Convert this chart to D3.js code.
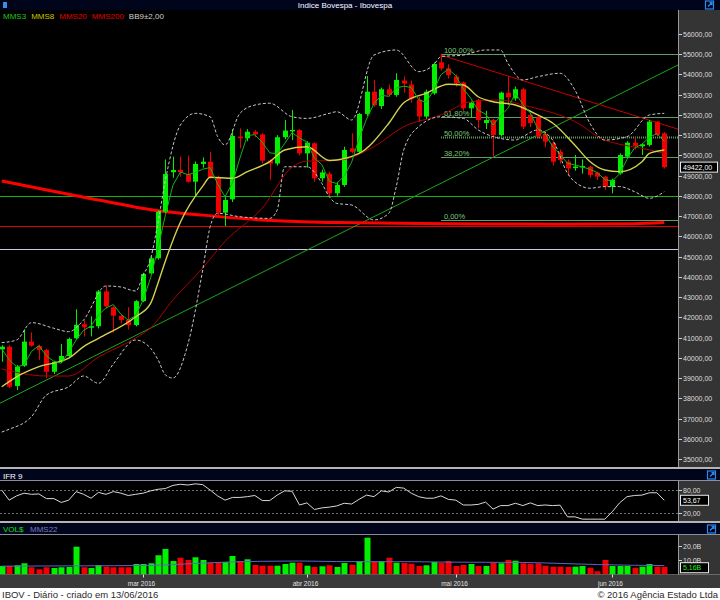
<!DOCTYPE html>
<html>
<head>
<meta charset="utf-8">
<script src="https://cdn.jsdelivr.net/npm/d3@7"></script>
<style>
  body { margin: 0; background: #fff; }
  svg { display: block; font-family: "Liberation Sans", Arial, sans-serif; }
</style>
</head>
<body>
<script>
// trading days shown (Ibovespa, daily)
const dates = [
  "2016-02-01","2016-02-02","2016-02-03","2016-02-04","2016-02-05","2016-02-10","2016-02-11","2016-02-12","2016-02-15","2016-02-16",
  "2016-02-17","2016-02-18","2016-02-19","2016-02-22","2016-02-23","2016-02-24","2016-02-25","2016-02-26","2016-02-29",
  "2016-03-01","2016-03-02","2016-03-03","2016-03-04","2016-03-07","2016-03-08","2016-03-09","2016-03-10","2016-03-11","2016-03-14",
  "2016-03-15","2016-03-16","2016-03-17","2016-03-18","2016-03-21","2016-03-22","2016-03-23","2016-03-24","2016-03-28","2016-03-29",
  "2016-03-30","2016-03-31",
  "2016-04-01","2016-04-04","2016-04-05","2016-04-06","2016-04-07","2016-04-08","2016-04-11","2016-04-12","2016-04-13","2016-04-14",
  "2016-04-15","2016-04-18","2016-04-19","2016-04-20","2016-04-22","2016-04-25","2016-04-26","2016-04-27","2016-04-28","2016-04-29",
  "2016-05-02","2016-05-03","2016-05-04","2016-05-05","2016-05-06","2016-05-09","2016-05-10","2016-05-11","2016-05-12","2016-05-13",
  "2016-05-16","2016-05-17","2016-05-18","2016-05-19","2016-05-20","2016-05-23","2016-05-24","2016-05-25","2016-05-27","2016-05-30",
  "2016-05-31",
  "2016-06-01","2016-06-02","2016-06-03","2016-06-06","2016-06-07","2016-06-08","2016-06-09","2016-06-10"
];

const opens = [
  40420,40550,38610,39610,40800,40580,40390,39310,39830,40090,
  40970,41660,41500,41560,43280,42500,42070,41870,41620,42800,
  44170,44920,47220,49170,49280,49080,48700,49580,49690,48920,
  47170,47830,50930,50850,51170,51040,49740,49600,50900,51230,
  51250,50100,50600,48870,49100,48130,48540,50350,50180,52050,
  53150,52440,53270,52990,53700,53500,52750,51920,53070,54600,
  54300,53900,53600,52330,52740,51600,51750,51010,53100,52820,
  53270,52000,51880,51060,50600,50180,49690,49400,49420,49440,
  49150,48950,48460,49110,49940,50630,50450,50520,51670,51090
];
const highs = [
  40620,40620,39650,41410,41250,40650,40450,39850,40680,41000,
  42400,41860,42050,43350,43580,42550,42150,42500,42850,44200,
  45000,47300,49800,49940,49940,50000,49700,49900,50180,49000,
  48000,51290,51340,51300,51250,51100,49800,51000,51750,52250,
  51300,50700,50650,49300,49200,48700,50430,51100,52100,53920,
  53720,53350,53500,54060,53900,53700,52900,53250,54600,55030,
  54500,54000,53650,52700,52800,52200,51800,53150,53920,53400,
  53350,52100,51950,51200,50700,50300,49800,50020,49800,49500,
  49200,49000,48850,50100,50700,50900,50600,51750,51700,51150
];
const lows = [
  39810,38500,38400,39550,40550,39900,38990,39200,39750,40000,
  40900,41050,41060,41450,42450,41240,41700,41400,41550,42750,
  44100,44850,47150,48900,48950,48650,47960,49400,48850,47000,
  46510,47700,50350,50700,50900,49610,48800,49500,50800,50760,
  50000,49400,48700,48700,47950,48000,48450,50100,50100,51950,
  52400,52300,52900,52900,53100,52600,51650,51800,53000,54200,
  53800,53400,52200,51900,51340,51300,49940,50950,52500,52700,
  51300,51400,50850,50400,49500,49600,49000,49250,49100,48900,
  48790,48300,48130,49050,49850,50300,50020,50450,50950,49350
];
const closes = [
  40550,38570,39560,40800,40600,40390,39310,39800,40090,40930,
  41630,41510,41560,43280,42540,42080,41870,41620,42800,44140,
  44920,47220,49080,49280,49170,48700,49580,49690,48920,47170,
  47800,50960,50850,51170,51040,49740,49600,50900,51230,51260,
  50100,50630,48870,49160,48130,48540,50270,50180,52050,53150,
  52490,53270,52990,53730,53550,52800,51920,53150,54520,54300,
  53970,53560,52330,52610,51750,51750,51010,53100,52870,53270,
  51420,51600,50930,50680,49690,49770,49360,49450,49480,49030,
  48950,48460,48790,50020,50630,50470,50550,51670,51010,49422
];

// volume in billions of R$
const volumes = [
  5.8,5.8,6.3,7.7,4.9,3.5,4.9,4.4,4.9,5.1,
  19.3,4.9,4.4,6.5,5.3,4.9,4.9,4.9,7.2,7.2,
  7.7,13.3,17.7,9.3,11.6,10,11.9,10,8.1,8.4,
  8.6,12.8,9.3,10.5,6.5,6.0,6.0,6.0,7.2,8.1,
  8.1,6.0,5.1,5.6,6.3,5.1,7.9,6.7,9.3,25.6,
  9.1,9.3,11.6,8.1,7.9,7.4,5.8,6.3,8.6,7.9,
  9.3,5.8,6.6,7.2,5.8,5.8,8.1,7.7,10,9.5,
  7.7,7.4,7.7,6.0,5.3,5.3,5.1,5.3,5.8,4.6,
  2.1,10,5.8,5.8,5.8,4.6,5.3,7.2,5.3,5.16
];

// IFR 9
const ifrValues = [
  80,54,65,72,69,70,58,58,48,54,
  76,69,59,74,69,76,72,66,69,72,
  78,82,84,92,95,93,96,94,80,65,
  54,61,61,63,66,53,53,67,78,77,
  41.5,47,30,34,36,39,46,44,56,67,
  63,78,75,87,85,72,63,59,59,65,
  56,54,41.5,41.5,43,49,31,40,40,46,
  40,47,40,41.5,40,41,11,11,5,5,
  5,5,24,47,63,66,67,73,73,53.67
];

const mms3Values = [
  40450,39900,39560,39640,40320,40600,40100,39830,39730,40270,
  40880,41360,41570,42120,42460,42630,42160,41860,42100,42850,
  43950,45430,47070,48530,49180,49050,49150,49320,49400,48590,
  47960,48640,49870,50990,51020,50650,50130,50080,50580,51130,
  50860,50660,49870,49550,48720,48610,48980,49660,50830,51790,
  52560,52970,52920,53330,53420,53360,52760,52620,53200,53990,
  54260,53940,53290,52830,52230,52040,51500,51950,52330,53080,
  52520,52100,51320,51070,50430,50050,49610,49530,49430,49320,
  49150,48810,48730,49090,49810,50370,50550,50900,51080,50700
];

const mms8Points = [
  ["2016-02-01",38570],["2016-02-03",39060],["2016-02-10",39560],["2016-02-16",39980],["2016-02-18",40550],
  ["2016-02-22",40960],["2016-02-29",42030],["2016-03-02",42690],["2016-03-03",43700],["2016-03-04",44800],
  ["2016-03-08",46700],["2016-03-11",48480],["2016-03-14",48920],["2016-03-17",48870],["2016-03-21",49200],
  ["2016-03-24",49690],["2016-03-29",50270],["2016-04-01",50430],["2016-04-06",49750],["2016-04-12",50100],
  ["2016-04-18",51590],["2016-04-20",52600],["2016-04-26",53070],["2016-04-29",53520],["2016-05-03",53480],
  ["2016-05-05",52900],["2016-05-09",52650],["2016-05-12",52490],["2016-05-17",52000],["2016-05-19",51600],
  ["2016-05-24",50500],["2016-05-27",49700],["2016-05-31",49280],["2016-06-02",49200],["2016-06-07",49690],
  ["2016-06-08",50100],["2016-06-10",50270]
];
const mms20Points = [
  ["2016-02-01",39450],["2016-02-11",39100],["2016-02-16",39100],["2016-02-22",40040],["2016-02-29",40980],
  ["2016-03-02",41470],["2016-03-07",42860],["2016-03-11",44440],["2016-03-16",45760],["2016-03-23",47400],
  ["2016-03-30",49420],["2016-04-01",49720],["2016-04-07",49750],["2016-04-14",50430],["2016-04-20",51420],
  ["2016-04-28",52000],["2016-05-04",52650],["2016-05-10",52740],["2016-05-13",52490],["2016-05-24",51670],
  ["2016-05-31",50760],["2016-06-02",50550],["2016-06-07",50350],["2016-06-10",50100]
];
const mms200Points = [
  ["2016-02-01",48740],["2016-02-22",47800],["2016-03-03",47270],["2016-03-11",47050],["2016-03-18",46890],
  ["2016-03-28",46770],["2016-04-07",46680],["2016-04-29",46630],["2016-05-20",46600],["2016-06-06",46620],
  ["2016-06-10",46680]
];
const bbUpperPoints = [
  ["2016-02-01",40750],["2016-02-03",40880],["2016-02-05",41740],["2016-02-12",41460],["2016-02-16",41290],
  ["2016-02-18",41870],["2016-02-23",43550],["2016-02-25",43500],["2016-02-29",43300],["2016-03-01",44070],
  ["2016-03-02",44900],["2016-03-03",46700],["2016-03-04",48800],["2016-03-08",51500],["2016-03-10",52080],
  ["2016-03-14",51910],["2016-03-15",50930],["2016-03-16",50520],["2016-03-18",52080],["2016-03-22",52490],
  ["2016-03-24",52580],["2016-03-30",51910],["2016-04-01",51830],["2016-04-06",52080],["2016-04-07",52160],
  ["2016-04-11",51750],["2016-04-14",54960],["2016-04-19",55210],["2016-04-25",54140],["2016-04-27",54470],
  ["2016-04-28",54880],["2016-05-03",54960],["2016-05-06",55210],["2016-05-10",55210],["2016-05-11",54550],
  ["2016-05-13",53730],["2016-05-17",53890],["2016-05-20",54060],["2016-05-24",53230],["2016-05-27",51590],
  ["2016-05-31",50760],["2016-06-03",50930],["2016-06-08",52000],["2016-06-10",52080]
];
const bbLowerPoints = [
  ["2016-02-01",36330],["2016-02-02",36470],["2016-02-05",37090],["2016-02-11",38160],["2016-02-16",38570],
  ["2016-02-18",39100],["2016-02-22",38740],["2016-02-24",39700],["2016-02-29",40880],["2016-03-02",40470],
  ["2016-03-03",39900],["2016-03-04",39150],["2016-03-07",39000],["2016-03-09",40660],["2016-03-11",44340],
  ["2016-03-14",46480],["2016-03-15",47140],["2016-03-18",46970],["2016-03-24",46890],["2016-03-28",47300],
  ["2016-03-29",49440],["2016-04-01",49440],["2016-04-05",48620],["2016-04-06",47960],["2016-04-07",47630],
  ["2016-04-11",47550],["2016-04-14",46810],["2016-04-18",47140],["2016-04-19",48460],["2016-04-20",50270],
  ["2016-04-25",51420],["2016-04-28",51910],["2016-05-03",51830],["2016-05-05",51260],["2016-05-09",50930],
  ["2016-05-12",50760],["2016-05-13",50930],["2016-05-17",51260],["2016-05-19",50760],["2016-05-23",49120],
  ["2016-05-25",48460],["2016-05-27",48380],["2016-05-31",48460],["2016-06-02",48460],["2016-06-06",48210],
  ["2016-06-08",47880],["2016-06-10",48210]
];
const volMms22Points = [
  ["2016-02-01",5.7],["2016-02-17",5.9],["2016-03-02",6.2],["2016-03-09",7.3],["2016-03-16",8.5],
  ["2016-03-23",9.1],["2016-03-31",9.3],["2016-04-07",8.9],["2016-04-14",8.8],["2016-04-22",8.8],
  ["2016-04-29",8.5],["2016-05-06",8.4],["2016-05-13",8.3],["2016-05-20",7.6],["2016-05-30",6.8],
  ["2016-06-06",6.3],["2016-06-10",6.1]
];

// drawn studies
const greenTrend = [["2016-02-01",37800],["2016-06-10",54130]];
const redTrend = [["2016-04-28",54960],["2016-06-02",52200]];
const supportLevels = [48000, 46500, 45400];
const fibStart = "2016-04-28";
const fibHigh = 55030, fibLow = 46800;
const fibRatios = [1, 0.618, 0.5, 0.382, 0];
const fibLabels = ["100,00%", "61,80%", "50,00%", "38,20%", "0,00%"];

// axis ticks
const priceTicks = [35000,36000,37000,38000,39000,40000,41000,42000,43000,44000,45000,
                    46000,47000,48000,49000,50000,51000,52000,53000,54000,55000,56000];
const ifrTicks = [20, 80];
const volTicks = [10, 20];
const monthTickDates = ["2016-03-01","2016-04-01","2016-05-02","2016-06-01"];
const monthLabels = ["mar 2016","abr 2016","mai 2016","jun 2016"];
const legendNames = ["MMS3","MMS8","MMS20","MMS200","BB9±2,00"];

const WIDTH = 720;
const HEIGHT = 600;
const PLOT_W = 678;
const GREEN = "#00f000";
const RED = "#f00000";
const AXIS_BG = "#343434";
const BAR_BG = "#00051c";

var fmt = function(v, n) { return v.toFixed(n).replace('.', ','); };

var xScale = d3.scalePoint().domain(dates).range([1.7, 664.3]);
var yPrice = d3.scaleLinear().domain([35000, 56000]).range([459, 34]);
var yIfr = d3.scaleLinear().domain([0, 100]).range([521.1, 482.3]);
var yVol = d3.scaleLinear().domain([0, 20]).range([574.3, 545.7]);

var candles = dates.map(function(d, i) {
  return {date: d, o: opens[i], h: highs[i], l: lows[i], c: closes[i], v: volumes[i]};
});

var svg = d3.select('body').append('svg')
    .attr('width', WIDTH)
    .attr('height', HEIGHT);

var rect = function(g, x, y, w, h, fill) {
  return g.append('rect').attr('x', x).attr('y', y).attr('width', w).attr('height', h).attr('fill', fill);
};

// panels
rect(svg, 0, 0, WIDTH, 10, BAR_BG);
rect(svg, 0, 10, PLOT_W, 457, '#000');
rect(svg, PLOT_W, 10, WIDTH - PLOT_W, 457, AXIS_BG);
rect(svg, 0, 467, WIDTH, 2, '#b4b4b4');
rect(svg, 0, 469, WIDTH, 12, BAR_BG);
rect(svg, 0, 480, WIDTH, 1, '#8c8ca0');
rect(svg, 0, 481, PLOT_W, 40, '#000');
rect(svg, PLOT_W, 481, WIDTH - PLOT_W, 40, AXIS_BG);
rect(svg, 0, 521, WIDTH, 2, '#b4b4b4');
rect(svg, 0, 523, WIDTH, 12, BAR_BG);
rect(svg, 0, 534, WIDTH, 1, '#8c8ca0');
rect(svg, 0, 535, PLOT_W, 39.5, '#000');
rect(svg, PLOT_W, 535, WIDTH - PLOT_W, 39.5, AXIS_BG);
rect(svg, 0, 574.5, WIDTH, 13.5, '#3a3a3a');
rect(svg, 0, 588, WIDTH, 12, '#fff');

[[10, 467], [481, 521], [535, 574.5]].forEach(function(r) {
  svg.append('line').attr('x1', PLOT_W + 0.5).attr('x2', PLOT_W + 0.5)
      .attr('y1', r[0]).attr('y2', r[1]).attr('stroke', '#9a9a9a');
});

// small blue icons
var icon = function(x, y) {
  var g = svg.append('g').attr('transform', 'translate(' + x + ',' + y + ')');
  g.append('rect').attr('x', 0.5).attr('y', 0.5).attr('width', 8).attr('height', 8)
      .attr('fill', 'none').attr('stroke', '#2a8cf0').attr('stroke-width', 1.2);
  g.append('path').attr('d', 'M3,6 L7,2 M4.5,2 L7,2 L7,4.5')
      .attr('stroke', '#2a8cf0').attr('fill', 'none').attr('stroke-width', 1.2);
};
icon(705, 0.5);
icon(707, 470.5);
icon(707, 524.5);
svg.append('rect').attr('x', 3).attr('y', 2).attr('width', 4).attr('height', 6).attr('fill', '#3c8ce0');

svg.append('text').attr('x', 345).attr('y', 8).attr('text-anchor', 'middle')
    .attr('font-size', 8).attr('fill', '#fff').text('Indice Bovespa - Ibovespa');

// clips
var defs = svg.append('defs');
[['clipMain', 10, 457], ['clipIfr', 481, 40], ['clipVol', 535, 39.5]].forEach(function(c) {
  defs.append('clipPath').attr('id', c[0]).append('rect')
      .attr('x', 0).attr('y', c[1]).attr('width', PLOT_W).attr('height', c[2]);
});

var main = svg.append('g').attr('clip-path', 'url(#clipMain)');

// horizontal support / resistance lines
var levelColors = ['#14b414', '#e00000', '#c8c8f0'];
supportLevels.forEach(function(v, i) {
  main.append('line').attr('x1', 0).attr('x2', PLOT_W)
      .attr('y1', Math.round(yPrice(v)) + 0.5).attr('y2', Math.round(yPrice(v)) + 0.5)
      .attr('stroke', levelColors[i]).attr('stroke-width', 1);
});

// fibonacci retracement
fibRatios.forEach(function(r, i) {
  var yy = Math.round(yPrice(fibLow + r * (fibHigh - fibLow))) + 0.5;
  main.append('line').attr('x1', xScale(fibStart)).attr('x2', PLOT_W)
      .attr('y1', yy).attr('y2', yy)
      .attr('stroke', '#5fa05f').attr('stroke-width', r === 0.5 ? 2 : 1)
      .attr('stroke-dasharray', r === 0.5 ? '1,1' : null);
  main.append('text').attr('x', xScale(fibStart) + 3).attr('y', yy - 2)
      .attr('font-size', 7.5).attr('fill', '#7cc87c').text(fibLabels[i]);
});

// trend lines, extended to the edge of the plot
var trendLine = function(pts, color, fromStart) {
  var x0 = xScale(pts[0][0]), y0 = yPrice(pts[0][1]);
  var x1 = xScale(pts[1][0]), y1 = yPrice(pts[1][1]);
  var slope = (y1 - y0) / (x1 - x0);
  var xa = fromStart ? 0 : x0;
  main.append('line')
      .attr('x1', xa).attr('y1', y0 + (xa - x0) * slope)
      .attr('x2', PLOT_W).attr('y2', y0 + (PLOT_W - x0) * slope)
      .attr('stroke', color).attr('stroke-width', 1);
};
trendLine(greenTrend, '#19a819', true);
trendLine(redTrend, '#c80000', false);

var pointLine = d3.line()
    .x(function(d) { return xScale(d[0]); })
    .y(function(d) { return yPrice(d[1]); })
    .curve(d3.curveMonotoneX);

main.append('path').attr('d', pointLine(mms200Points))
    .attr('fill', 'none').attr('stroke', '#ff0000').attr('stroke-width', 3);

// candles
var cg = main.append('g');
cg.selectAll('line.wick').data(candles).enter().append('line')
    .attr('class', 'wick')
    .attr('x1', function(d) { return Math.round(xScale(d.date)) + 0.5; })
    .attr('x2', function(d) { return Math.round(xScale(d.date)) + 0.5; })
    .attr('y1', function(d) { return yPrice(d.h); })
    .attr('y2', function(d) { return yPrice(d.l); })
    .attr('stroke', function(d) { return d.c >= d.o ? GREEN : RED; });
cg.selectAll('rect.body').data(candles).enter().append('rect')
    .attr('class', 'body')
    .attr('x', function(d) { return Math.round(xScale(d.date)) - 2; })
    .attr('width', 5)
    .attr('y', function(d) { return yPrice(Math.max(d.o, d.c)); })
    .attr('height', function(d) { return Math.max(1.5, Math.abs(yPrice(d.o) - yPrice(d.c))); })
    .attr('fill', function(d) { return d.c >= d.o ? GREEN : RED; });

// moving averages and bands
main.append('path').attr('d', pointLine(mms20Points))
    .attr('fill', 'none').attr('stroke', '#b00000').attr('stroke-width', 1);
[bbUpperPoints, bbLowerPoints].forEach(function(pts) {
  main.append('path').attr('d', pointLine(pts))
      .attr('fill', 'none').attr('stroke', '#c8c8c8').attr('stroke-width', 1)
      .attr('stroke-dasharray', '3,2');
});
main.append('path').attr('d', pointLine(mms8Points))
    .attr('fill', 'none').attr('stroke', '#d2d250').attr('stroke-width', 1.4);
var mms3Line = d3.line()
    .x(function(d, i) { return xScale(dates[i]); })
    .y(function(d) { return yPrice(d); });
main.append('path').attr('d', mms3Line(mms3Values))
    .attr('fill', 'none').attr('stroke', '#10b810').attr('stroke-width', 1);

// legend
var legendColors = ['#1ec81e', '#c8c800', '#e00000', '#e00000', '#d0d0d0'];
var lx = 3;
var legend = svg.append('g');
legendNames.forEach(function(n, i) {
  var t = legend.append('text').attr('x', lx).attr('y', 18.5).attr('font-size', 8)
      .attr('fill', legendColors[i]).text(n);
  lx += t.node().getComputedTextLength() + 5;
});

// value boxes on the right axis (drawn before tick labels so the labels stay readable)
var valueBox = function(yy, label, color, w) {
  svg.append('rect').attr('x', PLOT_W + 2.5).attr('y', yy - 5).attr('width', w).attr('height', 10)
      .attr('fill', '#000').attr('stroke', '#e8e8e8');
  svg.append('text').attr('x', PLOT_W + 5).attr('y', yy + 2.5).attr('font-size', 7)
      .attr('fill', color).text(label);
};

var axisLabels = function(g, ticks, scale, fmtFn) {
  ticks.forEach(function(t) {
    var yy = Math.round(scale(t)) + 0.5;
    g.append('line').attr('x1', PLOT_W + 1).attr('x2', PLOT_W + 4).attr('y1', yy).attr('y2', yy)
        .attr('stroke', '#cfcfcf');
    g.append('text').attr('x', PLOT_W + 5).attr('y', yy + 2.5).attr('font-size', 7)
        .attr('fill', '#dedede').text(fmtFn(t));
  });
};

// price axis
axisLabels(svg, priceTicks, yPrice, function(v) { return fmt(v, 2); });
valueBox(yPrice(closes[closes.length - 1]), fmt(closes[closes.length - 1], 2), '#fff', 37);

// IFR panel
svg.append('text').attr('x', 3).attr('y', 478.5).attr('font-size', 8).attr('fill', '#fff').text('IFR 9');
var ifrG = svg.append('g').attr('clip-path', 'url(#clipIfr)');
ifrTicks.forEach(function(t) {
  ifrG.append('line').attr('x1', 0).attr('x2', PLOT_W)
      .attr('y1', Math.round(yIfr(t)) + 0.5).attr('y2', Math.round(yIfr(t)) + 0.5)
      .attr('stroke', '#6e6e6e').attr('stroke-dasharray', '2,2');
});
var ifrLine = d3.line()
    .x(function(d, i) { return xScale(dates[i]); })
    .y(function(d) { return yIfr(d); });
ifrG.append('path').attr('d', ifrLine(ifrValues))
    .attr('fill', 'none').attr('stroke', '#d8d8d8').attr('stroke-width', 1);
axisLabels(svg, ifrTicks, yIfr, function(v) { return fmt(v, 2); });
valueBox(yIfr(ifrValues[ifrValues.length - 1]), fmt(ifrValues[ifrValues.length - 1], 2), '#fff', 28);

// volume panel
var vh = svg.append('g');
vh.append('text').attr('x', 3).attr('y', 532).attr('font-size', 8).attr('fill', '#10e010').text('VOL$');
vh.append('text').attr('x', 30).attr('y', 532).attr('font-size', 8).attr('fill', '#7878c8').text('MMS22');
var volG = svg.append('g').attr('clip-path', 'url(#clipVol)');
volG.selectAll('rect').data(candles).enter().append('rect')
    .attr('x', function(d) { return Math.round(xScale(d.date)) - 2.5; })
    .attr('width', 6)
    .attr('y', function(d) { return yVol(d.v); })
    .attr('height', function(d) { return yVol(0) - yVol(d.v); })
    .attr('fill', function(d) { return d.c >= d.o ? GREEN : RED; });
var volLine = d3.line()
    .x(function(d) { return xScale(d[0]); })
    .y(function(d) { return yVol(d[1]); })
    .curve(d3.curveMonotoneX);
volG.append('path').attr('d', volLine(volMms22Points))
    .attr('fill', 'none').attr('stroke', '#5a64c8').attr('stroke-width', 1);
valueBox(yVol(volumes[volumes.length - 1]) + 0.8, fmt(volumes[volumes.length - 1], 2) + 'B', '#1ef01e', 28);
axisLabels(svg, volTicks, yVol, function(v) { return fmt(v, 1) + 'B'; });

// date axis
monthTickDates.forEach(function(d, i) {
  var xx = Math.round(xScale(d)) + 0.5;
  svg.append('line').attr('x1', xx).attr('x2', xx).attr('y1', 574.5).attr('y2', 577.5)
      .attr('stroke', '#e0e0e0');
  svg.append('text').attr('x', xx - 2).attr('y', 585.5).attr('text-anchor', 'middle')
      .attr('font-size', 6.5).attr('fill', '#e0e0e0').text(monthLabels[i]);
});

// footer
svg.append('text').attr('x', 2).attr('y', 597.5).attr('font-size', 9.5).attr('fill', '#2a2a2a')
    .text('IBOV - Diário - criado em 13/06/2016');
svg.append('text').attr('x', 718).attr('y', 597.5).attr('font-size', 9.5).attr('fill', '#2a2a2a')
    .attr('text-anchor', 'end').text('© 2016 Agência Estado Ltda');
</script>
</body>
</html>
